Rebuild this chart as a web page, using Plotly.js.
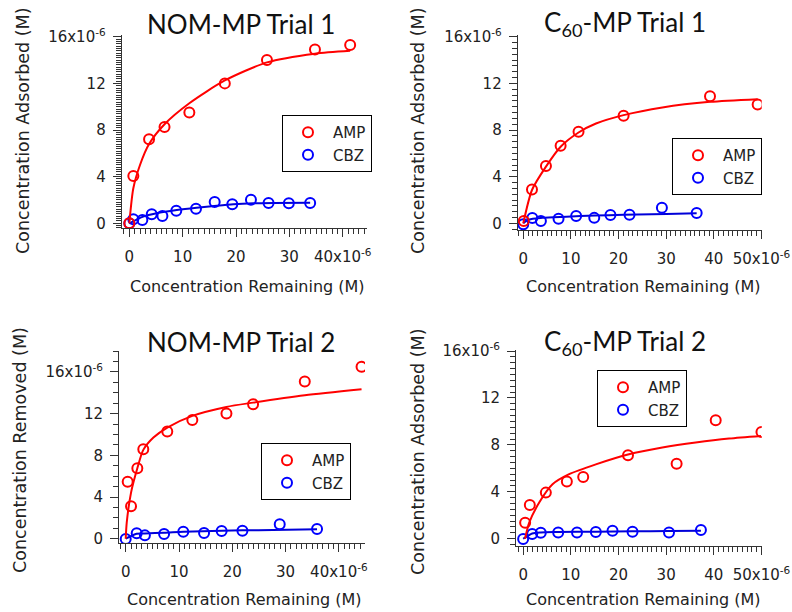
<!DOCTYPE html>
<html><head><meta charset="utf-8">
<script src="https://cdn.plot.ly/plotly-3.0.1.min.js"></script>
<style>html,body{margin:0;padding:0;background:#fff}#chart{width:792px;height:612px}</style>
</head><body><div id="chart"></div>
<script>
// values in units of 1e-6 M
const nom1AmpX = [0, 0.75, 3.7, 6.6, 11.25, 17.9, 25.8, 34.8, 41.4];
const nom1AmpY = [0, 4.05, 7.2, 8.25, 9.5, 12.0, 14.0, 14.9, 15.3];
const nom1AmpFitX = [0, 0.75, 2.0, 3.7, 6.6, 11.25, 17.9, 25.8, 34.8, 41.4];
const nom1AmpFitY = [0, 3.0, 5.0, 6.8, 8.5, 10.3, 12.25, 13.8, 14.55, 14.8];
const nom1CbzX = [0, 0.75, 2.44, 4.2, 6.2, 8.8, 12.5, 16.0, 19.3, 22.8, 26.1, 29.9, 33.9];
const nom1CbzY = [0, 0.34, 0.28, 0.77, 0.63, 1.08, 1.25, 1.83, 1.63, 2.02, 1.74, 1.71, 1.74];
const nom1CbzFitX = [0, 2.6, 5.1, 8.9, 12.6, 16.4, 19.5, 23.3, 27.0, 33.9];
const nom1CbzFitY = [0, 0.57, 0.86, 1.14, 1.34, 1.51, 1.63, 1.71, 1.74, 1.77];

const c601AmpX = [0.1, 1.83, 4.76, 7.84, 11.6, 21.06, 39.2, 49.2];
const c601AmpY = [0.2, 2.91, 4.91, 6.65, 7.85, 9.22, 10.9, 10.2];
const c601AmpFitX = [0, 1.83, 4.76, 7.84, 11.6, 15.26, 21.06, 29.2, 39.2, 49.2];
const c601AmpFitY = [0, 2.86, 4.86, 6.57, 7.79, 8.56, 9.28, 9.94, 10.42, 10.65];
const c601CbzX = [0, 1.9, 3.7, 7.4, 11.1, 14.9, 18.3, 22.3, 29.1, 36.4];
const c601CbzY = [-0.08, 0.45, 0.21, 0.40, 0.63, 0.47, 0.72, 0.73, 1.33, 0.89];
const c601CbzFitX = [0, 0.8, 2, 4, 8, 12, 18, 24, 30, 36.4];
const c601CbzFitY = [0, 0.25, 0.4, 0.47, 0.55, 0.62, 0.7, 0.76, 0.81, 0.86];

const nom2AmpX = [0.37, 1.0, 2.18, 3.3, 7.8, 12.5, 18.9, 23.9, 33.6, 44.25];
const nom2AmpY = [5.47, 3.11, 6.76, 8.58, 10.27, 11.39, 12.0, 12.9, 15.07, 16.48];
const nom2AmpFitX = [0, 0.19, 1.0, 2.18, 3.3, 5.2, 7.8, 12.5, 18.9, 23.9, 33.6, 44.25];
const nom2AmpFitY = [0, 1.54, 4.42, 6.75, 8.52, 9.7, 10.66, 11.78, 12.64, 13.05, 13.76, 14.34];
const nom2CbzX = [0, 2.06, 3.6, 7.2, 10.8, 14.7, 18.0, 21.9, 28.9, 35.9];
const nom2CbzY = [-0.03, 0.52, 0.32, 0.45, 0.67, 0.55, 0.74, 0.77, 1.38, 0.93];
const nom2CbzFitX = [0, 2.06, 3.6, 7.2, 10.8, 18.0, 21.9, 27.6, 35.9];
const nom2CbzFitY = [0, 0.48, 0.51, 0.57, 0.67, 0.77, 0.8, 0.83, 0.9];

const c602AmpX = [0.42, 1.4, 4.76, 9.17, 12.6, 22.0, 32.2, 40.4, 50.0];
const c602AmpY = [1.37, 2.88, 3.93, 4.87, 5.27, 7.11, 6.4, 10.1, 9.1];
const c602AmpFitX = [0.4, 1.27, 3.37, 6.16, 9.65, 15.25, 22.2, 29.2, 36.2, 43.2, 49.9];
const c602AmpFitY = [0, 1.37, 3.08, 4.64, 5.5, 6.34, 7.2, 7.77, 8.2, 8.54, 8.76];
const c602CbzX = [0, 1.9, 3.7, 7.35, 11.3, 15.25, 18.75, 22.95, 30.6, 37.3];
const c602CbzY = [-0.03, 0.4, 0.51, 0.54, 0.54, 0.57, 0.68, 0.6, 0.54, 0.74];
const c602CbzFitX = [0, 1.9, 3.7, 7.35, 15.25, 22.95, 30.6, 37.3];
const c602CbzFitY = [0, 0.45, 0.54, 0.57, 0.6, 0.63, 0.65, 0.68];

const seriesNames = ['AMP', 'CBZ'];
const panelTitles = ['NOM-MP Trial 1', 'C<sub>60</sub>-MP Trial 1', 'NOM-MP Trial 2', 'C<sub>60</sub>-MP Trial 2'];
const yTitles = ['Concentration Adsorbed (M)', 'Concentration Adsorbed (M)', 'Concentration Removed (M)', 'Concentration Adsorbed (M)'];
const xTitle = 'Concentration Remaining (M)';
const xAlias40 = {'40': '40x10<sup>-6</sup>'};
const xAlias50 = {'50': '50x10<sup>-6</sup>'};
const yAlias = {'16': '16x10<sup>-6</sup>'};

const RED = '#ff0000', BLUE = '#0000ff', BLUEL = '#0000d8';
const panels = [
  {amp:[nom1AmpX,nom1AmpY], ampFit:[nom1AmpFitX,nom1AmpFitY], cbz:[nom1CbzX,nom1CbzY], cbzFit:[nom1CbzFitX,nom1CbzFitY]},
  {amp:[c601AmpX,c601AmpY], ampFit:[c601AmpFitX,c601AmpFitY], cbz:[c601CbzX,c601CbzY], cbzFit:[c601CbzFitX,c601CbzFitY]},
  {amp:[nom2AmpX,nom2AmpY], ampFit:[nom2AmpFitX,nom2AmpFitY], cbz:[nom2CbzX,nom2CbzY], cbzFit:[nom2CbzFitX,nom2CbzFitY]},
  {amp:[c602AmpX,c602AmpY], ampFit:[c602AmpFitX,c602AmpFitY], cbz:[c602CbzX,c602CbzY], cbzFit:[c602CbzFitX,c602CbzFitY]}
];

const traces = [];
panels.forEach((p, i) => {
  const n = i === 0 ? '' : String(i + 1);
  const xa = 'x' + n, ya = 'y' + n, lg = 'legend' + n;
  traces.push({x:p.cbzFit[0], y:p.cbzFit[1], xaxis:xa, yaxis:ya, mode:'lines', line:{color:BLUEL, width:2, shape:'spline', smoothing:0.7}, showlegend:false, hoverinfo:'skip'});
  traces.push({x:p.cbz[0], y:p.cbz[1], xaxis:xa, yaxis:ya, mode:'markers', name:seriesNames[1], legend:lg, legendrank:2,
    marker:{symbol:'circle-open', size:10, color:BLUE, line:{width:2, color:BLUE}}});
  traces.push({x:p.ampFit[0], y:p.ampFit[1], xaxis:xa, yaxis:ya, mode:'lines', line:{color:RED, width:2, shape:'spline', smoothing:0.7}, showlegend:false, hoverinfo:'skip'});
  traces.push({x:p.amp[0], y:p.amp[1], xaxis:xa, yaxis:ya, mode:'markers', name:seriesNames[0], legend:lg, legendrank:1,
    marker:{symbol:'circle-open', size:10, color:RED, line:{width:2, color:RED}}});
});

const W = 792, H = 612;
const px = v => v / W, py = v => 1 - v / H;
const tickFont = {family:'DejaVu Sans, Arial, sans-serif', size:15, color:'#222'};
function xAxis(dom, range, ya, alias) {
  return {domain:[px(dom[0]), px(dom[1])], range:range, anchor:ya, showline:true, linecolor:'#333', linewidth:1,
    showgrid:false, zeroline:false, ticks:'outside', ticklen:8, tickwidth:1, tickcolor:'#333',
    tickmode:'linear', tick0:0, dtick:10, labelalias:alias, tickfont:tickFont, ticklabelstandoff:7,
    minor:{ticks:'outside', ticklen:5, tickwidth:1, tickcolor:'#333', dtick:1, tick0:0, showgrid:false}};
}
function yAxis(dom, range, xa, minorDt) {
  return {domain:[py(dom[1]), py(dom[0])], range:range, anchor:xa, showline:true, linecolor:'#333', linewidth:1,
    showgrid:false, zeroline:false, ticks:'outside', ticklen:8, tickwidth:1, tickcolor:'#333',
    tickmode:'linear', tick0:0, dtick:4, labelalias:yAlias, tickfont:tickFont, ticklabelstandoff:4,
    minor:{ticks:'outside', ticklen:5, tickwidth:1, tickcolor:'#333', dtick:minorDt, tick0:0, showgrid:false}};
}

const titleFont = {family:'Lato, Open Sans, sans-serif', size:26, color:'#111'};
const xLabFont = {family:'DejaVu Sans, Arial, sans-serif', size:16, color:'#222'};
const yLabFont = {family:'DejaVu Sans, Arial, sans-serif', size:17.5, color:'#222'};
const legFont = {family:'DejaVu Sans, Arial, sans-serif', size:15, color:'#222'};
function legend(x, y) {
  return {x:px(x), y:py(y), xanchor:'left', yanchor:'top', bgcolor:'#fff', bordercolor:'#000', borderwidth:1, font:legFont, tracegroupgap:0, itemwidth:40};
}

const titlePos = [[240.7, 24], [625, 24], [240.7, 342], [625, 342]];
const xTitlePos = [[247.5, 286], [643.5, 286], [244, 599], [643.5, 599]];
const yTitlePos = [[23, 131], [418, 131], [20, 450], [418, 452]];
const annotations = [];
for (let i = 0; i < 4; i++) {
  annotations.push({text:panelTitles[i], x:px(titlePos[i][0]), y:py(titlePos[i][1]), xref:'paper', yref:'paper', xanchor:'center', yanchor:'middle', showarrow:false, font:titleFont});
  annotations.push({text:xTitle, x:px(xTitlePos[i][0]), y:py(xTitlePos[i][1]), xref:'paper', yref:'paper', xanchor:'center', yanchor:'middle', showarrow:false, font:xLabFont});
  annotations.push({text:yTitles[i], x:px(yTitlePos[i][0]), y:py(yTitlePos[i][1]), xref:'paper', yref:'paper', xanchor:'center', yanchor:'middle', showarrow:false, textangle:-90, font:yLabFont});
}

const layout = {
  width:W, height:H, margin:{l:0, r:0, t:0, b:0}, paper_bgcolor:'#fff', plot_bgcolor:'rgba(0,0,0,0)',
  showlegend:true,
  xaxis: xAxis([121.7, 366.7], [-1.43, 44.5], 'y', xAlias40),
  yaxis: yAxis([35, 228.3], [-0.43, 16.15], 'x', 0.2),
  xaxis2: xAxis([517.7, 761.7], [-1.17, 50.05], 'y2', xAlias50),
  yaxis2: yAxis([35, 230], [-0.57, 16.15], 'x2', 0.5),
  xaxis3: xAxis([119, 365], [-1.26, 44.9], 'y3', xAlias40),
  yaxis3: yAxis([351, 543.3], [-0.44, 18.0], 'x3', 1),
  xaxis4: xAxis([516, 761.7], [-1.5, 50.05], 'y4', xAlias50),
  yaxis4: yAxis([350.3, 546], [-0.62, 16.06], 'x4', 0.5),
  legend: legend(282, 115),
  legend2: legend(672, 138),
  legend3: legend(261, 443),
  legend4: legend(597, 370),
  annotations: annotations
};
Plotly.newPlot('chart', traces, layout, {staticPlot:true, displayModeBar:false});
</script></body></html>
